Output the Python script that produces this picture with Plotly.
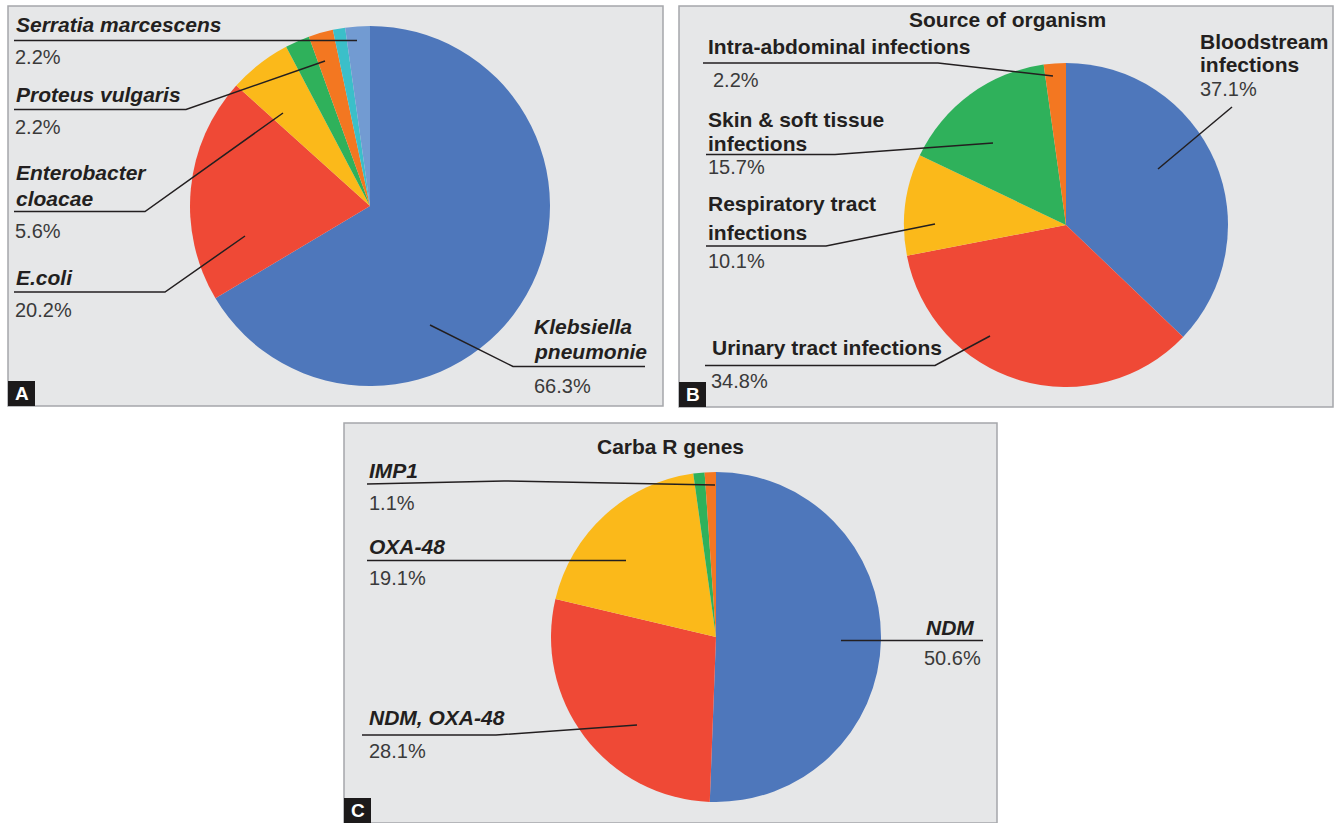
import plotly.graph_objects as go

W, H = 1338, 823

# ---------------- data ----------------
a_labels = ["Klebsiella pneumonie", "E.coli", "Enterobacter cloacae", "Other (unlabelled)",
            "Proteus vulgaris", "Other (unlabelled) ", "Serratia marcescens"]
a_values = [66.3, 20.2, 5.6, 2.2, 2.2, 1.1, 2.2]
a_colors = ["#4e77bb", "#ef4936", "#fbb91a", "#2fb15b", "#f37721", "#3bbfc9", "#729bd2"]

b_title = "Source of organism"
b_labels = ["Bloodstream infections", "Urinary tract infections", "Respiratory tract infections",
            "Skin & soft tissue infections", "Intra-abdominal infections"]
b_values = [37.1, 34.8, 10.1, 15.7, 2.2]
b_colors = ["#4e77bb", "#ef4936", "#fbb91a", "#2fb15b", "#f37721"]

c_title = "Carba R genes"
c_labels = ["NDM", "NDM, OXA-48", "OXA-48", "Other (unlabelled)", "IMP1"]
c_values = [50.6, 28.1, 19.1, 1.1, 1.1]
c_colors = ["#4e77bb", "#ef4936", "#fbb91a", "#2fb15b", "#f37721"]

# ---------------- layout helpers ----------------
FONT = "Liberation Sans, Arial, Helvetica, sans-serif"
TXT = "#231f20"
PCT = "#3a3a3a"
LINE = "#231f20"
LABEL_SIZE = 21
PCT_SIZE = 20


def X(p):
    return p / W


def Y(p):
    return 1 - p / H


def domain(cx, cy, r):
    return dict(x=[X(cx - r), X(cx + r)], y=[Y(cy + r), Y(cy - r)])


fig = go.Figure()
shapes = []
annotations = []

# panels (pixel boxes)
panels = [
    ("A", (8, 6, 663, 406)),
    ("B", (679, 6, 1333, 407)),
    ("C", (344, 423, 997, 823)),
]
for letter, (x0, y0, x1, y1) in panels:
    shapes.append(dict(type="rect", xref="paper", yref="paper",
                       x0=X(x0), x1=X(x1), y0=Y(y1), y1=Y(y0),
                       fillcolor="#e6e7e8", line=dict(color="#a5a7aa", width=1.5),
                       layer="below"))
    shapes.append(dict(type="rect", xref="paper", yref="paper",
                       x0=X(x0), x1=X(x0 + 27), y0=Y(y1), y1=Y(y1 - 25),
                       fillcolor="#1c1a1b", line=dict(width=0), layer="above"))
    annotations.append(dict(text="<b>%s</b>" % letter, x=X(x0 + 13.5), y=Y(y1 - 12.5),
                            xref="paper", yref="paper", showarrow=False,
                            xanchor="center", yanchor="middle",
                            font=dict(family=FONT, size=19, color="white")))

# pies
pies = [
    (a_labels, a_values, a_colors, (370, 206, 180)),
    (b_labels, b_values, b_colors, (1066, 225, 162)),
    (c_labels, c_values, c_colors, (716, 637, 165)),
]
for labels, values, colors, (cx, cy, r) in pies:
    fig.add_trace(go.Pie(labels=labels, values=values, sort=False, direction="clockwise",
                         rotation=0, marker=dict(colors=colors, line=dict(width=0)),
                         textinfo="none", hoverinfo="label+percent", showlegend=False,
                         domain=domain(cx, cy, r)))

# titles
for title, (tx, ty) in [(b_title, (1008, 20)), (c_title, (670, 446))]:
    annotations.append(dict(text="<b>%s</b>" % title, x=X(tx), y=Y(ty), xref="paper", yref="paper",
                            showarrow=False, xanchor="center", yanchor="middle",
                            font=dict(family=FONT, size=LABEL_SIZE, color=TXT)))

# label specs
label_specs = [
    # panel A
    (a_values, 6, ["Serratia marcescens"], (14, [24]), (13, 57),
     [(14, 40.5), (357, 40.5)], True),
    (a_values, 4, ["Proteus vulgaris"], (14, [94]), (13, 127),
     [(14, 109.5), (186, 109.5), (325, 61)], True),
    (a_values, 2, ["Enterobacter", "cloacae"], (14, [172, 198]), (13, 231),
     [(14, 211.5), (145, 211.5), (283, 113)], True),
    (a_values, 1, ["E.coli"], (14, [277]), (13, 310),
     [(14, 292), (165, 292), (245, 236)], True),
    (a_values, 0, ["Klebsiella", "pneumonie"], (532, [326, 351]), (532, 386),
     [(645, 366.5), (513, 366.5), (430, 325)], True),
    # panel B
    (b_values, 4, ["Intra-abdominal infections"], (706, [47]), (711, 80),
     [(703, 63), (938, 63), (1053, 76)], False),
    (b_values, 3, ["Skin & soft tissue", "infections"], (706, [119, 143]), (706, 167),
     [(706, 154.5), (835, 154.5), (993, 143)], False),
    (b_values, 2, ["Respiratory tract", "infections"], (706, [204, 232]), (706, 261),
     [(706, 246), (826, 246), (935, 224)], False),
    (b_values, 1, ["Urinary tract infections"], (710, [347]), (709, 381),
     [(705, 365.5), (935, 365.5), (990, 336)], False),
    (b_values, 0, ["Bloodstream", "infections"], (1198, [41, 65]), (1198, 89),
     [(1232, 107), (1158, 169)], False),
    # panel C
    (c_values, 4, ["IMP1"], (367, [470]), (367, 503),
     [(367, 484), (504, 481), (715, 485)], True),
    (c_values, 2, ["OXA-48"], (367, [546]), (367, 578),
     [(367, 560.5), (626, 560.5)], True),
    (c_values, 1, ["NDM, OXA-48"], (367, [717]), (367, 751),
     [(362, 735), (496, 735), (637, 725)], True),
    (c_values, 0, ["NDM"], (924, [627]), (922, 658),
     [(983, 640.5), (841, 640.5)], True),
]

for values, idx, lines, (lx, lys), (px_, py_), path, italic in label_specs:
    for line, ly in zip(lines, lys):
        t = "<b><i>%s</i></b>" % line if italic else "<b>%s</b>" % line
        annotations.append(dict(text=t, x=X(lx), y=Y(ly), xref="paper", yref="paper",
                                showarrow=False, xanchor="left", yanchor="middle",
                                font=dict(family=FONT, size=LABEL_SIZE, color=TXT)))
    annotations.append(dict(text="%.1f%%" % values[idx], x=X(px_), y=Y(py_), xref="paper",
                            yref="paper", showarrow=False, xanchor="left", yanchor="middle",
                            font=dict(family=FONT, size=PCT_SIZE, color=PCT)))
    d = "M " + " L ".join("%f %f" % (X(a), Y(b)) for a, b in path)
    shapes.append(dict(type="path", xref="paper", yref="paper", path=d,
                       line=dict(color=LINE, width=1.5), layer="above"))

fig.update_layout(width=W, height=H, margin=dict(l=0, r=0, t=0, b=0),
                  paper_bgcolor="white", plot_bgcolor="white",
                  shapes=shapes, annotations=annotations)

fig.write_html("out.html", config={"displayModeBar": False})
